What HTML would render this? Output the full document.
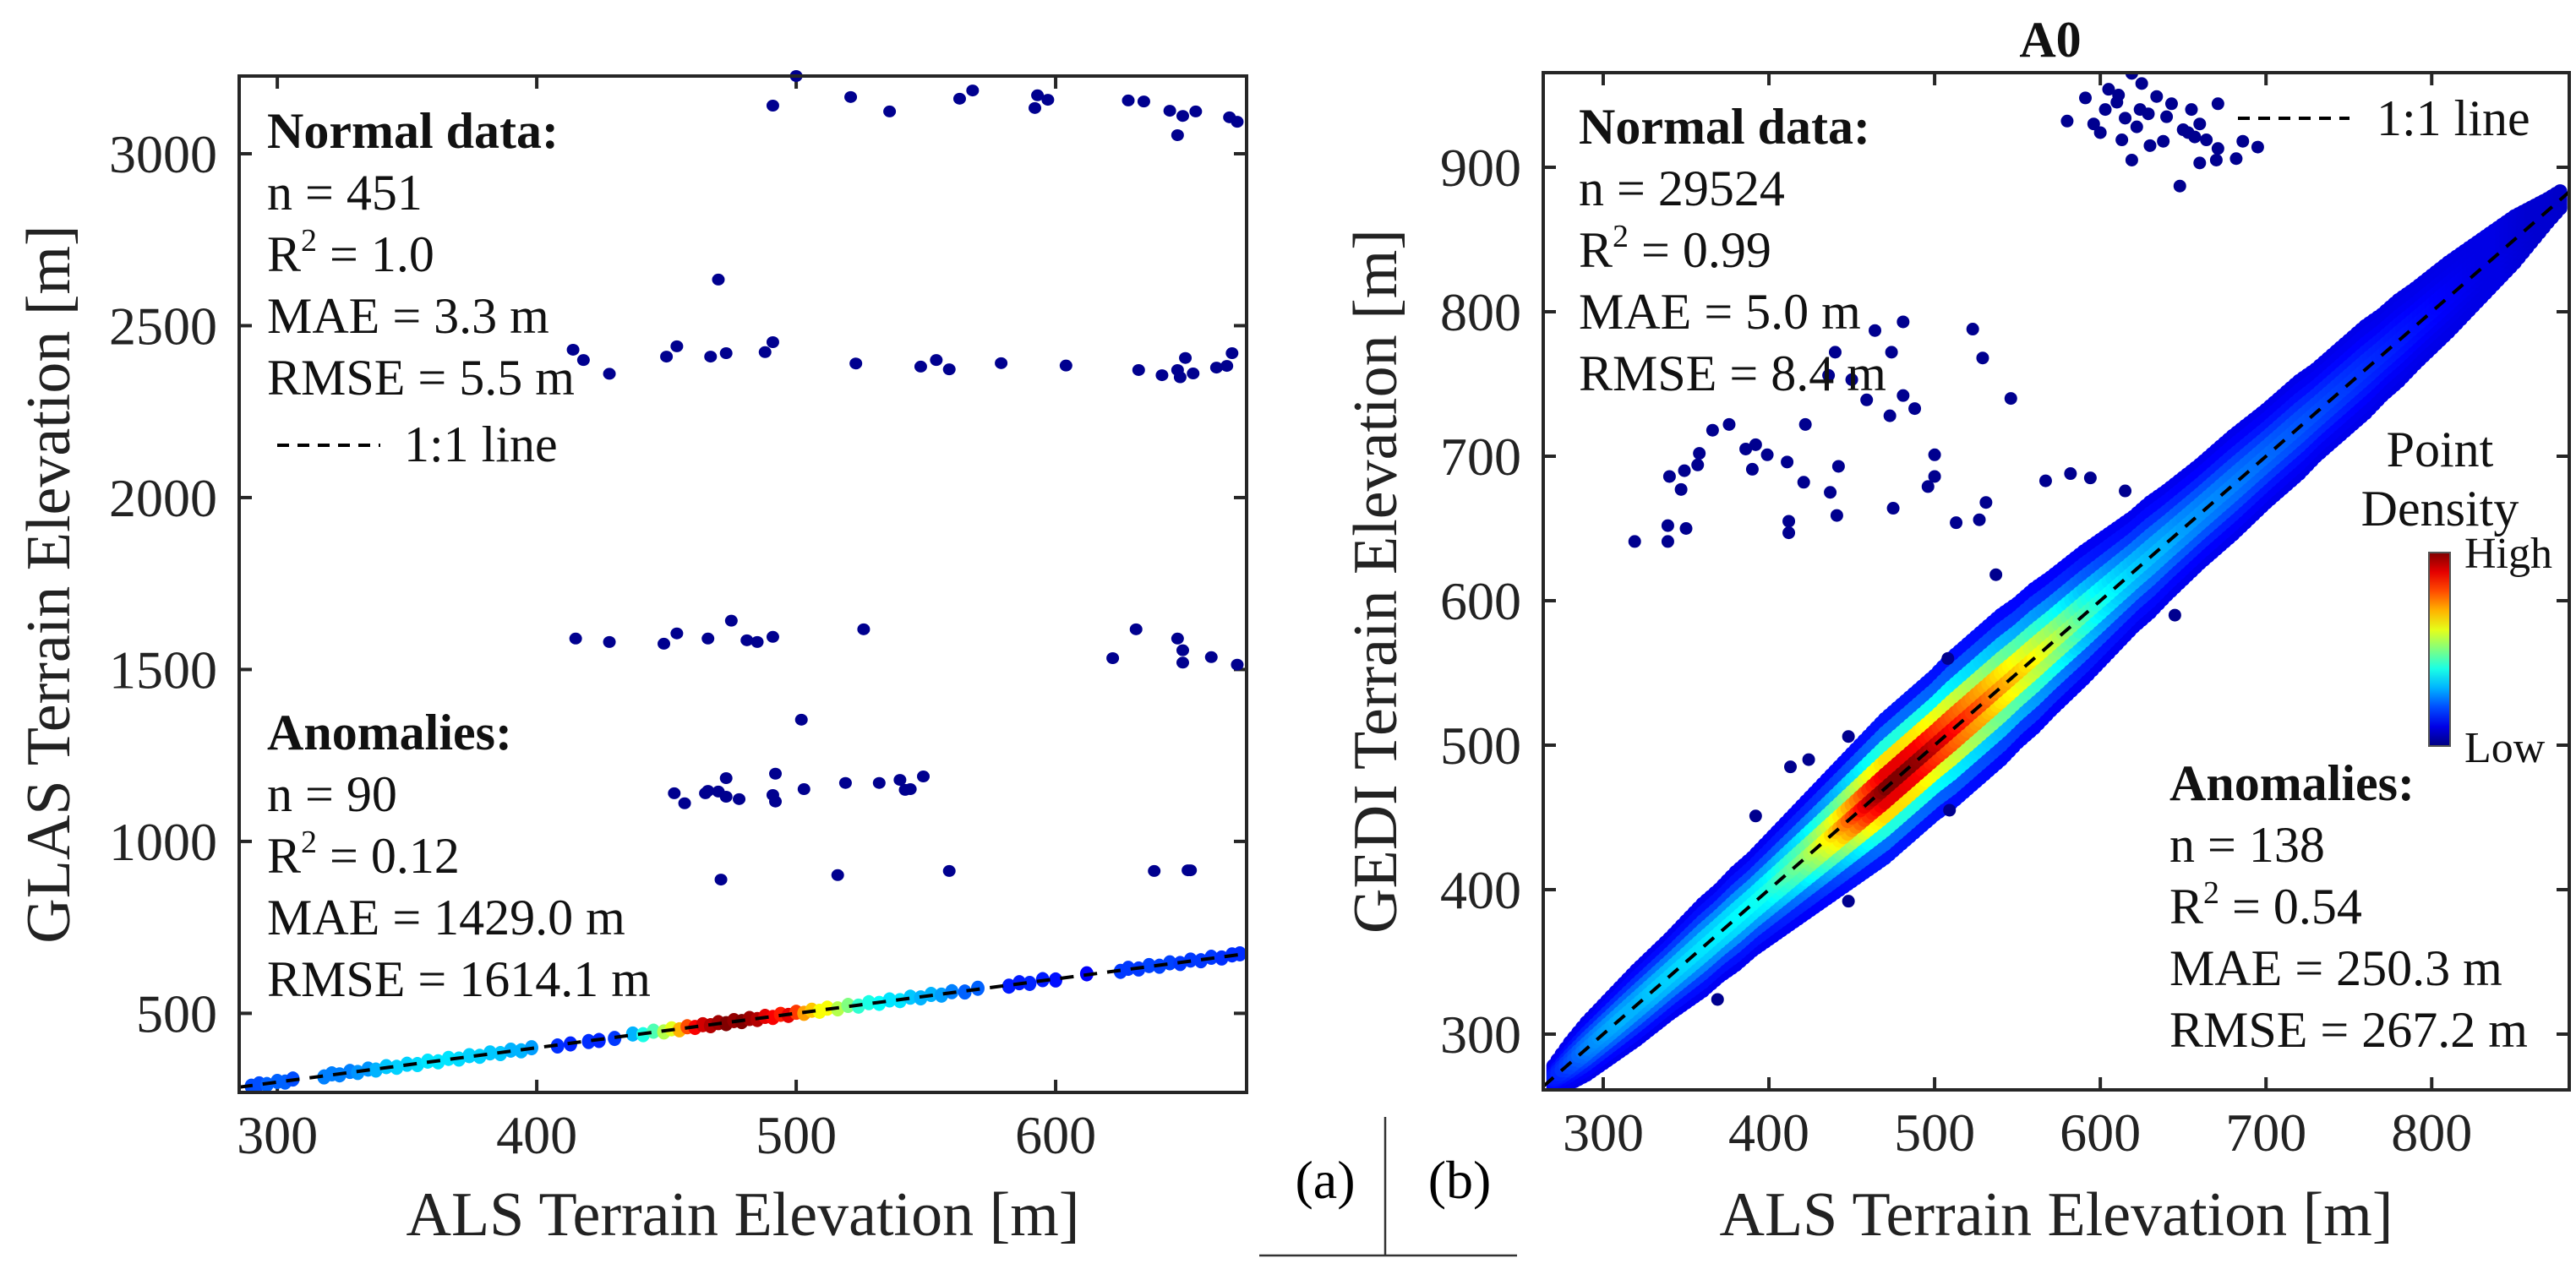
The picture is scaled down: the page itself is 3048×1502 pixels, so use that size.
<!DOCTYPE html>
<html><head><meta charset="utf-8"><style>
html,body{margin:0;padding:0;background:#fff;}
svg{display:block;font-family:"Liberation Serif",serif;}
</style></head><body>
<svg id="fig" width="3048" height="1502" viewBox="0 0 3048 1502" xmlns="http://www.w3.org/2000/svg">
<rect width="3048" height="1502" fill="#fff"/>
<g id="plotA"></g>
<g id="plotB"></g>
<g>
<text x="1568" y="1418" font-size="64" text-anchor="middle">(a)</text>
<text x="1727" y="1418" font-size="64" text-anchor="middle">(b)</text>
<line x1="1639" y1="1322" x2="1639" y2="1486" stroke="#333" stroke-width="2.5"/>
<line x1="1490" y1="1486" x2="1795" y2="1486" stroke="#333" stroke-width="2.5"/>
</g>
</svg>
<script>
// ---------- Panel (a) data ----------
const aNormX = [290,293,296,300,303,306,318,321,324,328,331,335,338,342,346,350,354,358,362,366,370,374,378,382,386,390,394,398,408,413,420,424,430,437,441,445,449,452,455,458,461,464,467,470,473,476,479,482,485,488,491,494,497,500,503,506,509,512,516,520,524,528,532,536,540,544,548,552,556,560,565,570,582,586,590,595,600,612,625,628,632,636,640,644,648,652,656,660,664,668,671];
const aNormY = [288,295,293,302,300,309,315,324,321,331,328,338,335,345,343,352,351,361,359,369,367,377,375,385,383,393,391,400,405,411,418,421,427,440,438,448,446,455,452,461,459,467,464,473,470,479,476,485,482,491,488,497,494,503,500,509,506,515,513,523,521,531,529,539,537,547,545,555,553,563,562,573,579,589,587,598,597,615,622,631,629,639,637,647,645,655,653,663,661,670,673];
const aNormD = [0.2,0.2,0.22,0.22,0.22,0.2,0.25,0.25,0.25,0.25,0.27,0.27,0.3,0.32,0.33,0.33,0.34,0.35,0.35,0.35,0.34,0.33,0.33,0.32,0.32,0.3,0.3,0.28,0.17,0.16,0.17,0.16,0.18,0.3,0.4,0.45,0.55,0.6,0.7,0.8,0.88,0.92,0.95,0.97,1.0,0.98,1.0,0.97,0.95,0.9,0.88,0.85,0.9,0.82,0.72,0.68,0.62,0.62,0.55,0.5,0.42,0.4,0.38,0.35,0.35,0.32,0.3,0.3,0.28,0.25,0.22,0.22,0.15,0.15,0.16,0.15,0.14,0.12,0.18,0.18,0.18,0.19,0.19,0.19,0.18,0.18,0.18,0.18,0.17,0.17,0.17];
const aAnomX = [500,491,521,536,563,568,593,592,597,628,634,644,649,647,654,667,670,414,418,428,450,454,467,473,488,491,470,523,548,554,559,579,604,632,641,647,648,650,653,662,666,668,415,428,449,454,466,475,481,485,491,526,622,631,647,649,649,660,670,502,453,457,465,466,470,473,473,478,491,492,492,503,519,532,540,542,549,544,471,516,559,638,651,652];
const aAnomY = [3226,3140,3165,3123,3160,3184,3170,3133,3157,3155,3152,3125,3110,3054,3123,3106,3093,2430,2400,2360,2410,2440,2410,2420,2423,2452,2634,2390,2381,2400,2373,2391,2384,2371,2356,2371,2350,2406,2361,2378,2383,2420,1590,1580,1575,1605,1590,1642,1585,1580,1595,1617,1533,1617,1590,1556,1520,1536,1514,1354,1140,1111,1140,1147,1145,1184,1130,1123,1135,1197,1116,1152,1170,1170,1179,1150,1189,1152,889,902,914,914,916,916];
const aXTicks = [300,400,500,600];
const aYTicks = [500,1000,1500,2000,2500,3000];
const aNormalStats = ["n = 451","R² = 1.0","MAE = 3.3 m","RMSE = 5.5 m"];
const aAnomStats = ["n = 90","R² = 0.12","MAE = 1429.0 m","RMSE = 1614.1 m"];

// ---------- Panel (b) data ----------
const bBandX = [270,280,290,300,310,320,330,340,350,360,370,380,390,400,410,420,430,440,450,460,470,480,490,500,510,520,530,540,550,560,570,580,590,600,610,620,630,640,650,660,670,680,690,700,710,720,730,740,750,760,770,780,790,800,810,820,830,840,850,860,870,880];
const bBandHalf = [8,14,18,20,22,24,25,26,28,30,30,32,32,34,36,38,40,42,44,46,48,48,48,48,50,50,50,50,48,48,46,45,44,42,40,38,38,36,35,34,34,34,33,32,32,32,30,30,30,30,28,28,26,25,24,22,20,18,16,12,8,5];
const bBandPeak = [0.15,0.2,0.25,0.28,0.3,0.3,0.32,0.33,0.34,0.35,0.36,0.37,0.38,0.4,0.45,0.5,0.58,0.68,0.8,0.92,1.0,1.0,0.98,0.93,0.88,0.83,0.78,0.72,0.68,0.63,0.58,0.52,0.45,0.4,0.36,0.33,0.31,0.3,0.28,0.27,0.26,0.25,0.24,0.23,0.22,0.21,0.2,0.19,0.18,0.17,0.16,0.15,0.14,0.13,0.12,0.11,0.1,0.1,0.09,0.08,0.08,0.07];
const bOutX = [319,339,339,350,340,347,349,357,358,366,376,386,392,390,399,411,412,412,421,422,437,441,442,475,500,500,496,513,527,531,537,567,582,594,615,448,424,413,392,448,369,509,508,645,580,591,605,619,625,596,600,613,619,615,624,634,643,638,648,655,653,660,671,664,671,660,670,682,686,695,629,464,481,523,529,440,474,436,450,459,481,488,473,546,610,622,640,650,630,657,603,611];
const bOutY = [641,641,652,650,686,677,690,694,702,718,722,705,708,691,701,696,655,647,682,722,675,659,693,664,701,686,679,654,656,668,618,683,688,685,676,506,490,485,451,392,324,455,560,590,932,948,954,965,958,930,924,919,905,934,940,949,944,918,887,940,924,930,944,919,913,903,905,906,918,914,937,787,793,788,768,772,772,756,753,739,742,733,728,740,945,928,935,926,915,921,940,950];
const bXTicks = [300,400,500,600,700,800];
const bYTicks = [300,400,500,600,700,800,900];
const bNormalStats = ["n = 29524","R² = 0.99","MAE = 5.0 m","RMSE = 8.4 m"];
const bAnomStats = ["n = 138","R² = 0.54","MAE = 250.3 m","RMSE = 267.2 m"];

const NS = "http://www.w3.org/2000/svg";
function mk(tag, attrs, parent){const e=document.createElementNS(NS,tag);for(const k in attrs)e.setAttribute(k,attrs[k]);parent.appendChild(e);return e;}
function cl(v){return Math.max(0,Math.min(1,v));}
function jet(v){v=cl(v);const r=cl(1.5-Math.abs(4*v-3)),g=cl(1.5-Math.abs(4*v-2)),b=cl(1.5-Math.abs(4*v-1));return `rgb(${Math.round(r*255)},${Math.round(g*255)},${Math.round(b*255)})`;}
function scale(d0,d1,r0,r1){return v=>r0+(v-d0)/(d1-d0)*(r1-r0);}

function axes(g, box, dom, xt, yt, xlab, ylab, ylabX){
  const sx=scale(dom[0],dom[1],box.x0,box.x1), sy=scale(dom[2],dom[3],box.y1,box.y0);
  xt.forEach(v=>{
    const X=sx(v);
    let t=mk('line',{x1:X,y1:box.y1,x2:X,y2:box.y1-15,stroke:'#262626','stroke-width':4},g);
    
    
    t=mk('line',{x1:X,y1:box.y0,x2:X,y2:box.y0+15,stroke:'#262626','stroke-width':4},g);
    
    
    const l=mk('text',{x:X,y:box.y1+72,'font-size':64,'text-anchor':'middle',fill:'#222'},g);l.textContent=v;
    
    
  });
  yt.forEach(v=>{
    const Y=sy(v);
    let t=mk('line',{x1:box.x0,y1:Y,x2:box.x0+15,y2:Y,stroke:'#262626','stroke-width':4},g);
    
    
    t=mk('line',{x1:box.x1,y1:Y,x2:box.x1-15,y2:Y,stroke:'#262626','stroke-width':4},g);
    
    
    const l=mk('text',{x:box.x0-26,y:Y+22,'font-size':64,'text-anchor':'end',fill:'#222'},g);l.textContent=v;
    
    
  });
  const xl=mk('text',{x:(box.x0+box.x1)/2,y:1462,'font-size':74,'text-anchor':'middle',fill:'#222'},g);xl.textContent=xlab;
  
  
  const cy=(box.y0+box.y1)/2;
  const yl=mk('text',{x:ylabX,y:cy,'font-size':74,'text-anchor':'middle',fill:'#222',transform:`rotate(-90 ${ylabX} ${cy})`},g);yl.textContent=ylab;
  
  
  return {sx,sy};
}
function frame(g,box){
  const r=mk('rect',{x:box.x0,y:box.y0,width:box.x1-box.x0,height:box.y1-box.y0,fill:'none',stroke:'#262626','stroke-width':4},g);
  
  
}
function statBlock(g,x,y0,title,lines,name){
  const gg=mk('g',{},g);
  
  
  const t=mk('text',{x:x,y:y0,'font-size':60,'font-weight':'bold',fill:'#111'},gg);t.textContent=title;
  lines.forEach((s,i)=>{
    const e=mk('text',{x:x,y:y0+73*(i+1),'font-size':60,fill:'#111'},gg);
    if(s.indexOf('²')>=0){e.textContent='R';const sp=mk('tspan',{'font-size':38,dy:-24},e);sp.textContent='2';const r=mk('tspan',{dy:24},e);r.textContent=s.slice(2);}
    else e.textContent=s;
  });
}

// ---------- Panel (a) ----------
(function(){
  const g=document.getElementById('plotA');
  const box={x0:283,x1:1475,y0:90,y1:1293};
  const dom=[285.3,673.6,270,3226];
  const {sx,sy}=axes(g,box,dom,aXTicks,aYTicks,'ALS Terrain Elevation [m]','GLAS Terrain Elevation [m]',82);
  const pts=mk('g',{},g);
  
  
  aAnomX.forEach((x,i)=>{
    const c=mk('ellipse',{cx:sx(x),cy:sy(aAnomY[i]),rx:7.5,ry:7,fill:'#00008f'},pts);
    
    
  });
  const np=mk('g',{},g);
  
  
  aNormX.forEach((x,i)=>{
    const c=mk('ellipse',{cx:sx(x),cy:sy(aNormY[i]),rx:8,ry:9,fill:jet(aNormD[i])},np);
    
    
  });
  const ln=mk('line',{x1:sx(dom[0]),y1:sy(dom[0]),x2:sx(dom[1]),y2:sy(dom[1]),stroke:'#000','stroke-width':4,'stroke-dasharray':'16 12'},g);
  
  
  frame(g,box);
  statBlock(g,316,175,'Normal data:',aNormalStats,'normal-stats');
  statBlock(g,316,887,'Anomalies:',aAnomStats,'anomaly-stats');
  const lg=mk('g',{},g);
  
  
  mk('line',{x1:328,y1:527,x2:450,y2:527,stroke:'#000','stroke-width':4,'stroke-dasharray':'14 10'},lg);
  const lt=mk('text',{x:478,y:546,'font-size':60,fill:'#111'},lg);lt.textContent='1:1 line';
})();

// ---------- Panel (b) ----------
(function(){
  const g=document.getElementById('plotB');
  const box={x0:1826,x1:3040,y0:86,y1:1290};
  const dom=[263.8,883,261.4,965.5];
  const {sx,sy}=axes(g,box,dom,bXTicks,bYTicks,'ALS Terrain Elevation [m]','GEDI Terrain Elevation [m]',1652);
  const tt=mk('text',{x:2426,y:67,'font-size':60,'font-weight':'bold','text-anchor':'middle',fill:'#111'},g);tt.textContent='A0';
  
  
  const clip=mk('clipPath',{id:'clipB'},g);mk('rect',{x:box.x0,y:box.y0,width:box.x1-box.x0,height:box.y1-box.y0},clip);
  const band=mk('g',{'clip-path':'url(#clipB)'},g);
  
  
  const layers=[1,0.8,0.6,0.4,0.2,0];
  layers.forEach(f=>{
    for(let i=0;i<bBandX.length-1;i++){
      for(let s=0;s<4;s++){
        const t=s/4;
        const x=bBandX[i]+(bBandX[i+1]-bBandX[i])*t;
        const hw=bBandHalf[i]+(bBandHalf[i+1]-bBandHalf[i])*t;
        const pk=bBandPeak[i]+(bBandPeak[i+1]-bBandPeak[i])*t;
        const edge=Math.min(pk,0.1);
        const v=edge+(pk-edge)*Math.exp(-3*f*f);
        [1,-1].forEach(sg=>{
          if(f===0&&sg<0)return;
          const c=mk('circle',{cx:sx(x),cy:sy(x+sg*f*hw),r:8.5,fill:jet(v)},band);
          
          
        });
      }
    }
  });
  const op=mk('g',{'clip-path':'url(#clipB)'},g);
  
  
  bOutX.forEach((x,i)=>{
    const c=mk('circle',{cx:sx(x),cy:sy(bOutY[i]),r:7.5,fill:'#00008f'},op);
    
    
  });
  const ln=mk('line',{x1:sx(dom[0]),y1:sy(dom[0]),x2:sx(dom[1]),y2:sy(dom[1]),stroke:'#000','stroke-width':4,'stroke-dasharray':'16 12','clip-path':'url(#clipB)'},g);
  
  
  frame(g,box);
  statBlock(g,1868,170,'Normal data:',bNormalStats,'normal-stats');
  statBlock(g,2567,947,'Anomalies:',bAnomStats,'anomaly-stats');
  const lg=mk('g',{},g);
  
  
  mk('line',{x1:2648,y1:140,x2:2780,y2:140,stroke:'#000','stroke-width':4,'stroke-dasharray':'14 10'},lg);
  const lt=mk('text',{x:2812,y:160,'font-size':60,fill:'#111'},lg);lt.textContent='1:1 line';
  const cb=mk('g',{},g);
  
  
  const defs=mk('defs',{},cb);
  const lgr=mk('linearGradient',{id:'jetg',x1:0,y1:1,x2:0,y2:0},defs);
  for(let k=0;k<=10;k++)mk('stop',{offset:k/10,'stop-color':jet(k/10)},lgr);
  mk('rect',{x:2874,y:654,width:25,height:229,fill:'url(#jetg)',stroke:'#555','stroke-width':2},cb);
  const p1=mk('text',{x:2887,y:552,'font-size':60,'text-anchor':'middle',fill:'#111'},cb);p1.textContent='Point';
  const p2=mk('text',{x:2887,y:622,'font-size':60,'text-anchor':'middle',fill:'#111'},cb);p2.textContent='Density';
  const h=mk('text',{x:2916,y:672,'font-size':52,fill:'#111'},cb);h.textContent='High';
  
  
  const lo=mk('text',{x:2916,y:902,'font-size':52,fill:'#111'},cb);lo.textContent='Low';
  
  
})();
</script>
</body></html>
